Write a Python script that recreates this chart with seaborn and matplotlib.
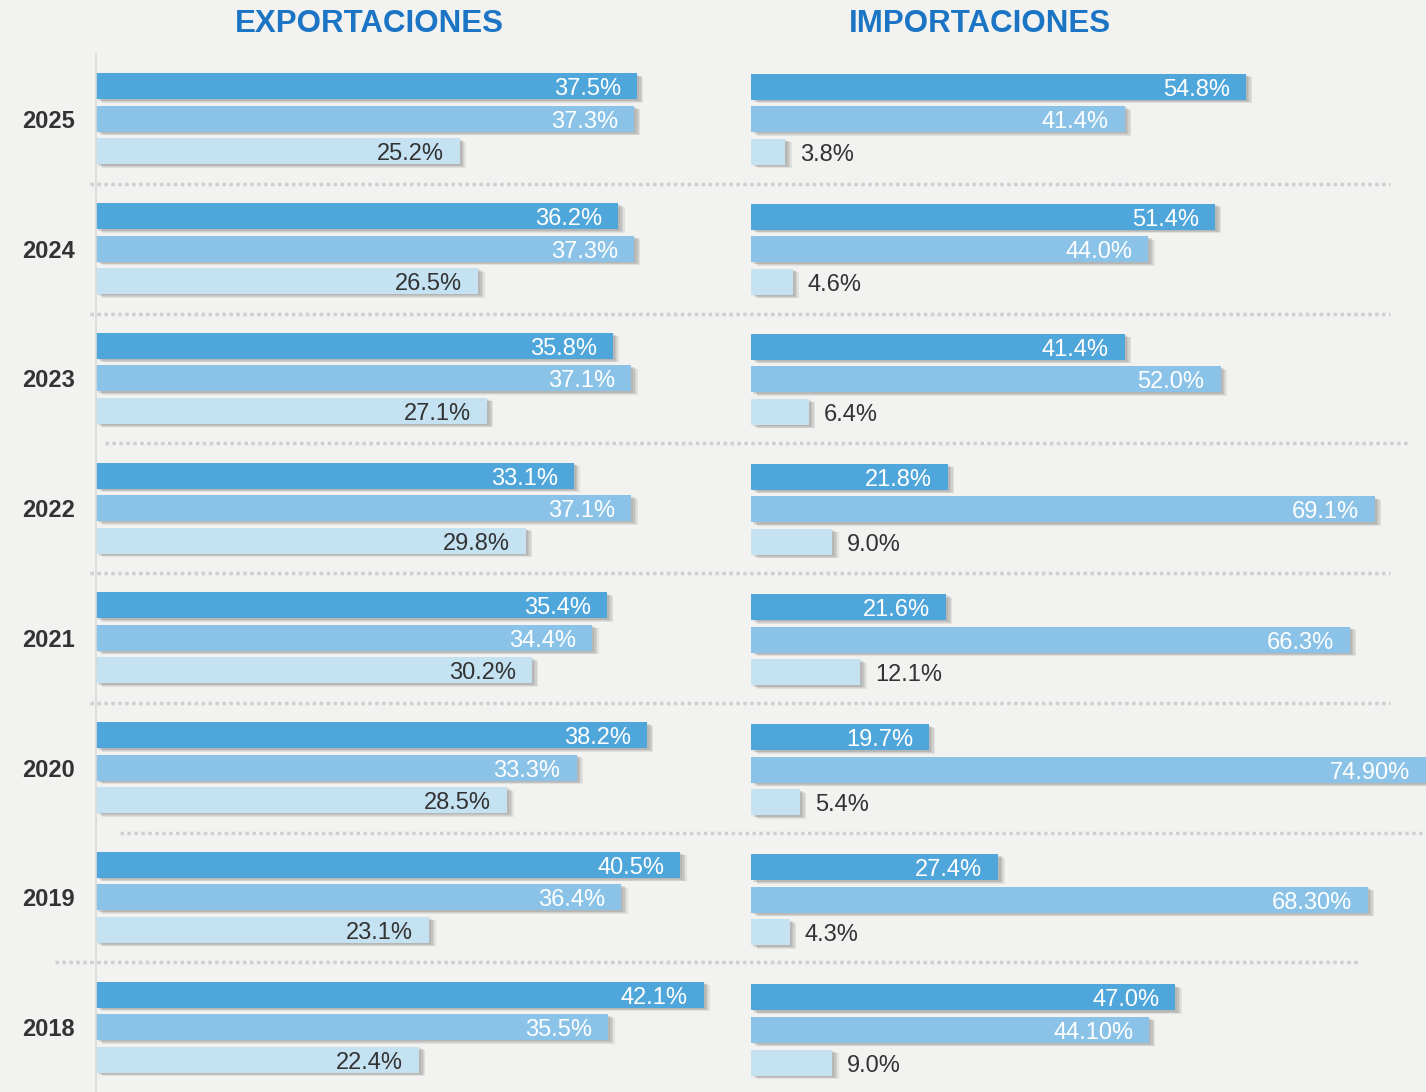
import pandas as pd
import seaborn as sns
import matplotlib.pyplot as plt
import matplotlib.patheffects as pe
from matplotlib.lines import Line2D
from matplotlib.transforms import blended_transform_factory

years = ["2025", "2024", "2023", "2022", "2021", "2020", "2019", "2018"]
series = ["s1", "s2", "s3"]

exp_s1 = [37.5, 36.2, 35.8, 33.1, 35.4, 38.2, 40.5, 42.1]
exp_s2 = [37.3, 37.3, 37.1, 37.1, 34.4, 33.3, 36.4, 35.5]
exp_s3 = [25.2, 26.5, 27.1, 29.8, 30.2, 28.5, 23.1, 22.4]

imp_s1 = [54.8, 51.4, 41.4, 21.8, 21.6, 19.7, 27.4, 47.0]
imp_s2 = [41.4, 44.0, 52.0, 69.1, 66.3, 74.9, 68.3, 44.1]
imp_s3 = [3.8, 4.6, 6.4, 9.0, 12.1, 5.4, 4.3, 9.0]

# labels as printed in the source (some with two decimals)
imp_s2_labels = ["41.4%", "44.0%", "52.0%", "69.1%", "66.3%", "74.90%", "68.30%", "44.10%"]

colors = ["#4fa6da", "#8ac3e7", "#c5e2f3"]
bg = "#f2f2f0"
W, H = 1426, 1092

sns.set_theme(style="white", rc={"figure.facecolor": bg, "axes.facecolor": bg})
plt.rcParams["font.family"] = ["Liberation Sans", "DejaVu Sans"]


def long_df(s1, s2, s3):
    rows = []
    for name, vals in zip(series, [s1, s2, s3]):
        for y, v in zip(years, vals):
            rows.append({"year": y, "serie": name, "value": v})
    return pd.DataFrame(rows)


fig = plt.figure(figsize=(W / 100, H / 100), dpi=100)

top_px, c0_px, step_px = 54, 119, 130.14
ax_h = 1 - top_px / H
y_bottom = (H - c0_px) / step_px

ax1 = fig.add_axes([96 / W, 0, (740 - 96) / W, ax_h])
ax2 = fig.add_axes([751 / W, 0, (W - 751) / W, ax_h])

# soft drop shadow: a few stacked, faint offsets
shadow = [pe.SimplePatchShadow(offset=(dx, -dy), shadow_rgbFace="#606060", alpha=0.12)
          for dx, dy in [(4.5, 2.5), (3.5, 2), (2.5, 1.5), (1.5, 1)]] + [pe.Normal()]


def draw(ax, df, labels, xmax, outside_light):
    sns.barplot(data=df, y="year", x="value", hue="serie", order=years, hue_order=series,
                orient="h", palette=colors, saturation=1, width=0.75, gap=0.2,
                legend=False, ax=ax, linewidth=0)
    ax.set_xlim(0, xmax)
    ax.set_ylim(y_bottom, -0.5)
    for k, cont in enumerate(ax.containers):
        for i, bar in enumerate(cont.patches):
            bar.set_path_effects(shadow)
            bar.set_clip_on(True)
            val = bar.get_width()
            yc = bar.get_y() + bar.get_height() / 2
            txt = labels[k][i]
            if k == 2 and outside_light:
                ax.annotate(txt, (val, yc), xytext=(15, -3), textcoords="offset pixels",
                            ha="left", va="center", fontsize=17, color="#333333")
            else:
                col = "#333333" if k == 2 else "white"
                ax.annotate(txt, (min(val, xmax), yc), xytext=(-16, -3), textcoords="offset pixels",
                            ha="right", va="center", fontsize=17, color=col)
    ax.set_xlabel("")
    ax.set_ylabel("")
    ax.set_xticks([])
    for s in ["top", "right", "bottom", "left"]:
        ax.spines[s].set_visible(False)


fmt = lambda vals: [f"{v:.1f}%" for v in vals]

draw(ax1, long_df(exp_s1, exp_s2, exp_s3), [fmt(exp_s1), fmt(exp_s2), fmt(exp_s3)],
     (740 - 96) / 14.43, False)
draw(ax2, long_df(imp_s1, imp_s2, imp_s3), [fmt(imp_s1), imp_s2_labels, fmt(imp_s3)],
     (W - 751) / 9.03, True)

# year labels and left axis line
ax1.spines["left"].set_visible(True)
ax1.spines["left"].set_color("#d9d9d9")
ax1.spines["left"].set_linewidth(1.2)
ax1.tick_params(axis="y", which="major", length=0, pad=15)
for t in ax1.get_yticklabels():
    t.set_fontweight("bold")
    t.set_fontsize(17)
    t.set_color("#333333")
ax1.set_yticks([i - 0.5 for i in range(len(years) + 1)], minor=True)
ax1.tick_params(axis="y", which="minor", length=5, width=1.2, color="#d9d9d9", direction="out")
ax2.set_yticks([])

# dotted separators between years, spanning both panels
sep_x = [(90, 1390), (90, 1390), (105, 1410), (90, 1390), (90, 1390), (120, 1426), (55, 1360)]
tr = blended_transform_factory(fig.transFigure, ax1.transData)
for i, (x0, x1) in enumerate(sep_x):
    fig.add_artist(Line2D([x0 / W, x1 / W], [i + 0.5, i + 0.5], transform=tr,
                          color="#cfcfcf", lw=2.5, linestyle=(0, (1, 1))))

fig.text(369 / W, 1 - 24 / H, "EXPORTACIONES", ha="center", va="center",
         fontsize=22.5, fontweight="bold", color="#1b75c4")
fig.text(980 / W, 1 - 24 / H, "IMPORTACIONES", ha="center", va="center",
         fontsize=22.5, fontweight="bold", color="#1b75c4")

fig.savefig("out.png", dpi=100, facecolor=bg)
